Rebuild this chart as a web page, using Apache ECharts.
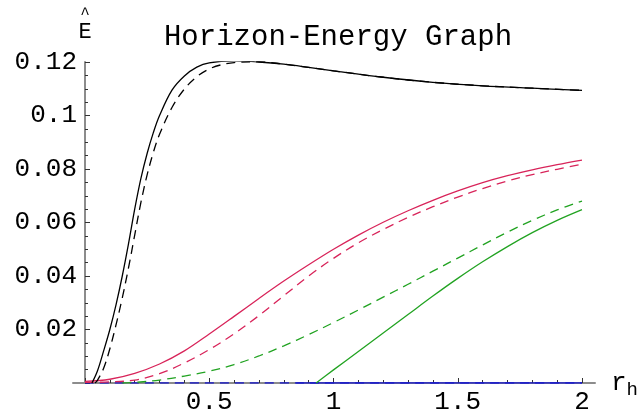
<!DOCTYPE html>
<html>
<head>
<meta charset="utf-8">
<script src="https://cdn.jsdelivr.net/npm/echarts@6/dist/echarts.min.js"></script>
<style>
  html, body { margin: 0; padding: 0; background: #fff; }
  #chart { width: 644px; height: 415px; }
</style>
</head>
<body>
<div id="chart"></div>
<script>
// values
var blackSolidX = [0.028, 0.05, 0.075, 0.1, 0.125, 0.15, 0.175, 0.2, 0.225, 0.25, 0.275, 0.3, 0.35, 0.4, 0.45, 0.5, 0.6, 0.7, 0.8, 0.9, 1.0, 1.2, 1.4, 1.6, 1.8, 2.0]
var blackSolidY = [0, 0.0045, 0.012, 0.02, 0.0293, 0.04, 0.052, 0.065, 0.0765, 0.0858, 0.0936, 0.1, 0.1095, 0.1148, 0.1181, 0.1197, 0.1204, 0.12, 0.1192, 0.118, 0.1167, 0.1143, 0.1124, 0.1111, 0.1102, 0.1094]
var blackDashX = [0.04, 0.05, 0.075, 0.1, 0.125, 0.15, 0.175, 0.2, 0.225, 0.25, 0.275, 0.3, 0.35, 0.4, 0.45, 0.5, 0.55, 0.6, 0.7, 0.8, 0.9, 1.0, 1.2, 1.4, 1.6, 1.8, 2.0]
var blackDashY = [0, 0.001, 0.0055, 0.0128, 0.0218, 0.0318, 0.043, 0.0553, 0.0675, 0.0778, 0.0862, 0.093, 0.103, 0.1099, 0.1145, 0.1174, 0.119, 0.1198, 0.1201, 0.1192, 0.118, 0.1167, 0.1143, 0.1124, 0.1111, 0.1102, 0.1094]
var redSolidX = [0, 0.1, 0.2, 0.3, 0.4, 0.5, 0.6, 0.7, 0.8, 0.9, 1.0, 1.1, 1.2, 1.3, 1.4, 1.5, 1.6, 1.7, 1.8, 1.9, 2.0]
var redSolidY = [0.0006, 0.0014, 0.0036, 0.0071, 0.012, 0.0183, 0.0249, 0.0316, 0.0381, 0.0442, 0.05, 0.0553, 0.0601, 0.0644, 0.0683, 0.0718, 0.0749, 0.0775, 0.0797, 0.0816, 0.0833]
var redDashX = [0, 0.1, 0.2, 0.3, 0.4, 0.5, 0.6, 0.7, 0.8, 0.9, 1.0, 1.1, 1.2, 1.3, 1.4, 1.5, 1.6, 1.7, 1.8, 1.9, 2.0]
var redDashY = [0.0002, 0.0004, 0.0011, 0.0035, 0.0075, 0.0125, 0.0184, 0.0252, 0.0326, 0.04, 0.0466, 0.0524, 0.0574, 0.0619, 0.0659, 0.0695, 0.0727, 0.0755, 0.0779, 0.0799, 0.0818]
var greenDashX = [0.15, 0.2, 0.3, 0.4, 0.5, 0.6, 0.7, 0.8, 0.9, 1.0, 1.1, 1.2, 1.3, 1.4, 1.5, 1.6, 1.7, 1.8, 1.9, 2.0]
var greenDashY = [0, 0.0002, 0.0011, 0.0026, 0.0044, 0.0069, 0.0101, 0.0139, 0.0181, 0.0226, 0.0273, 0.0321, 0.0369, 0.0418, 0.0467, 0.0516, 0.0564, 0.0608, 0.0647, 0.068]
var greenSolidX = [0.93, 1.0, 1.1, 1.2, 1.3, 1.4, 1.5, 1.6, 1.7, 1.8, 1.9, 2.0]
var greenSolidY = [0, 0.0049, 0.0118, 0.0187, 0.0256, 0.0325, 0.0391, 0.0453, 0.051, 0.0562, 0.0608, 0.0648]
var blueDashX = [0, 2]
var blueDashY = [0, 0]
var blueSolidX = [0.85, 2]
var blueSolidY = [0, 0]

var monoFont = '"Courier New", "Liberation Mono", monospace'

function pairs(xs, ys) {
  return xs.map(function (x, i) { return [x, ys[i]] })
}

function line(name, xs, ys, color, dashed) {
  return {
    name: name,
    type: 'line',
    xAxisIndex: 1,
    yAxisIndex: 1,
    showSymbol: false,
    smooth: 0.35,
    silent: true,
    z: 3,
    lineStyle: {
      color: color,
      width: 1.3,
      type: dashed ? [9, 6] : 'solid'
    },
    data: pairs(xs, ys)
  }
}

function tickLabel(v) {
  if (v === 0) return ''
  return String(+v.toFixed(2))
}

var chart = echarts.init(document.getElementById('chart'), null, { renderer: 'canvas' })
chart.setOption({
  backgroundColor: '#fff',
  animation: false,
  title: {
    text: 'Horizon-Energy Graph',
    left: 333,
    textAlign: 'center',
    top: 18,
    textStyle: {
      fontFamily: monoFont,
      fontWeight: 'normal',
      fontSize: 29,
      color: '#000'
    }
  },
  // grid 0 only carries the long grey x axis line, grid 1 holds the plot
  grid: [
    { left: 73, right: 49, top: 62, bottom: 32 },
    { left: 85, right: 62, top: 62, bottom: 32 }
  ],
  xAxis: [{
    gridIndex: 0,
    type: 'value',
    min: -0.048,
    max: 2.056,
    name: '{r|r}{h|h}',
    nameLocation: 'end',
    nameGap: 16,
    nameTextStyle: {
      rich: {
        r: { fontFamily: monoFont, fontSize: 26, color: '#000' },
        h: { fontFamily: monoFont, fontSize: 19, color: '#000', padding: [14, 0, 0, 0] }
      }
    },
    axisLine: { show: true, onZero: false, lineStyle: { color: '#8c8c8c', width: 2 } },
    axisTick: { show: false },
    axisLabel: { show: false },
    splitLine: { show: false }
  }, {
    gridIndex: 1,
    type: 'value',
    min: 0,
    max: 2,
    interval: 0.5,
    axisLine: { show: true, onZero: false, lineStyle: { color: '#8c8c8c', width: 2 } },
    axisTick: { show: true, inside: true, length: 5, lineStyle: { color: '#333' } },
    minorTick: { show: true, splitNumber: 5, length: 3, lineStyle: { color: '#333' } },
    axisLabel: {
      margin: 6,
      fontFamily: monoFont,
      fontSize: 26,
      color: '#000',
      formatter: tickLabel
    },
    splitLine: { show: false }
  }],
  yAxis: [{
    gridIndex: 0,
    type: 'value',
    min: 0,
    max: 0.12,
    show: false
  }, {
    gridIndex: 1,
    type: 'value',
    min: 0,
    max: 0.12,
    interval: 0.02,
    name: '{hat|^}\n{e|E}',
    nameLocation: 'end',
    nameGap: 19,
    nameTextStyle: {
      align: 'center',
      rich: {
        hat: { fontFamily: monoFont, fontSize: 16, lineHeight: 12, color: '#000' },
        e: { fontFamily: monoFont, fontSize: 22, lineHeight: 22, color: '#000' }
      }
    },
    axisLine: { show: true, onZero: false, lineStyle: { color: '#8c8c8c', width: 2 } },
    axisTick: { show: true, inside: true, length: 5, lineStyle: { color: '#333' } },
    minorTick: { show: true, splitNumber: 4, length: 3, lineStyle: { color: '#333' } },
    axisLabel: {
      margin: 8,
      fontFamily: monoFont,
      fontSize: 26,
      color: '#000',
      formatter: tickLabel
    },
    splitLine: { show: false }
  }],
  series: [
    line('blue dashed', blueDashX, blueDashY, '#1a1acc', true),
    line('blue', blueSolidX, blueSolidY, '#1a1acc', false),
    line('green dashed', greenDashX, greenDashY, '#22a322', true),
    line('green', greenSolidX, greenSolidY, '#22a322', false),
    line('red dashed', redDashX, redDashY, '#d8245a', true),
    line('red', redSolidX, redSolidY, '#d8245a', false),
    line('black dashed', blackDashX, blackDashY, '#000', true),
    line('black', blackSolidX, blackSolidY, '#000', false)
  ]
})
</script>
</body>
</html>
